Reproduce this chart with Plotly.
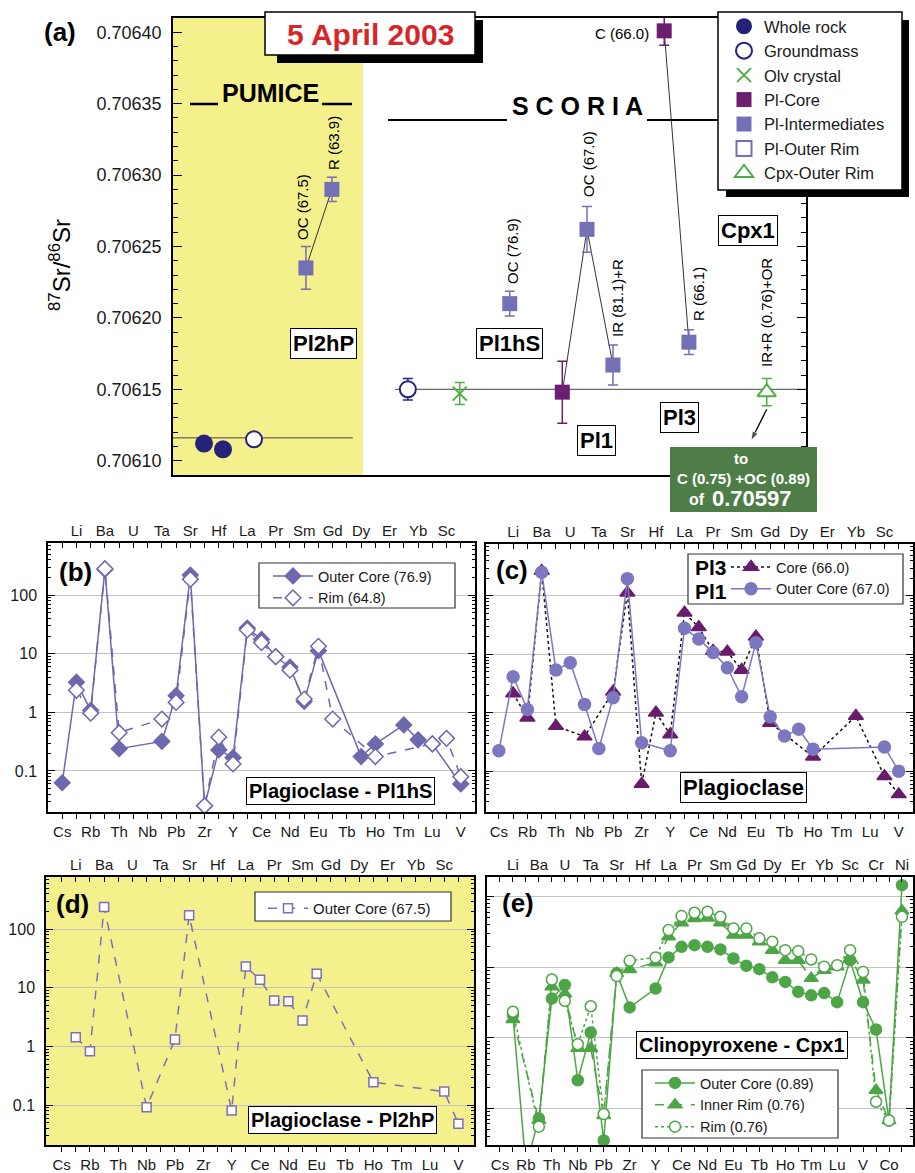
import plotly.graph_objects as go

W, H = 915, 1173
FONT = "Liberation Sans, Arial, Helvetica, sans-serif"


def px(x):
    return x / W


def py(y):
    return 1 - y / H


# ======================= DATA =======================
# Panel (a): 87Sr/86Sr ; samples placed in slots along an unlabelled 0-100 axis
wr_slot = [4.9, 7.9]
wr_sr = [0.706112, 0.706108]
gm_pumice_slot = [12.8]
gm_pumice_sr = [0.706115]
gm_scoria_slot = [37.1]
gm_scoria_sr = [0.706150]
gm_scoria_err = [0.0000075]
olv_slot = [45.3]
olv_sr = [0.706147]
olv_err = [0.0000077]
plcore_slot = [61.5, 77.6]                      # Pl1 core, Pl3 C (66.0)
plcore_sr = [0.706148, 0.706401]
plcore_err = [0.0000217, 0.0000100]
plint_slot = [21.0, 25.1, 53.2, 65.4, 69.5, 81.5]  # Pl2hP OC, Pl2hP R, Pl1hS OC, Pl1 OC, Pl1 IR+R, Pl3 R
plint_sr = [0.706235, 0.706290, 0.706210, 0.706262, 0.706167, 0.706183]
plint_err = [0.0000150, 0.0000085, 0.0000087, 0.0000160, 0.0000140, 0.0000087]
cpx_slot = [93.8]
cpx_sr = [0.706148]
cpx_err = [0.0000095]
pumice_mean = 0.706116
scoria_mean = 0.706150
pumice_span = [0, 28.4]
scoria_span = [35.1, 100]
pumice_shade = [0, 30]
# arrow from the Cpx1 point towards the note box (tail, head) in panel-(a) coordinates
note_arrow_x = [93.8, 91.3]
note_arrow_y = [0.706136, 0.706114]

# Panels (b)-(e): normalised trace-element patterns
ELEM_PL = ["Cs", "Li", "Rb", "Ba", "Th", "U", "Nb", "Ta", "Pb", "Sr", "Zr", "Hf", "Y", "La",
           "Ce", "Pr", "Nd", "Sm", "Eu", "Gd", "Tb", "Dy", "Ho", "Er", "Tm", "Yb", "Lu", "Sc", "V"]
ELEM_CPX = ELEM_PL + ["Cr", "Co", "Ni"]
N = None
b_outer_core = [0.063, 3.27, 1.08, 275, 0.24, N, N, 0.32, 1.93, 220, 0.0255, 0.229, 0.169, 27.5,
                17.6, 8.9, 5.9, 1.54, 11.3, N, N, 0.176, 0.29, N, 0.61, 0.34, 0.29, N, 0.060]
b_rim = [N, 2.38, 0.97, 283, 0.45, N, N, 0.77, 1.48, 186, 0.0255, 0.378, 0.132, 25.5,
         15.5, 8.9, 5.25, 1.69, 13.4, 0.77, N, N, 0.176, N, N, N, 0.29, 0.36, 0.080]
c_pl3_core = [N, 2.14, 0.82, 268, 0.59, N, 0.39, N, 2.29, 114, 0.060, 1.0, 0.425, 51.8,
              29, 11.4, 11.1, 5.4, 20.1, 0.67, N, N, 0.176, N, N, 0.877, N, 0.082, 0.040]
c_pl1_outer_core = [0.223, 4.14, 1.14, 255, 5.39, 7.2, 1.39, 0.245, 1.81, 198, 0.306, N, 0.223, 27.9,
                    18.3, 10.8, 5.9, 1.88, 15.8, 0.85, 0.40, 0.52, 0.238, N, N, N, N, 0.26, 0.10]
d_outer_core = [N, 1.44, 0.83, 239, N, N, 0.092, N, 1.32, 173, N, N, 0.081, 23.2,
                13.7, 6.1, 5.9, 2.78, 17.4, N, N, N, 0.246, N, N, N, N, 0.17, 0.048]
e_outer_core = [N, 21, 0.15, 0.72, 36, 56, 2.5, 11.9, 0.35, 82, 27, N, 50, 138, 195, 206, 195,
                179, 133, 105, 94, 72, 62, 45, 40, 43, 32, 126, 32, 13.1, 0.67, 1460]
e_inner_rim = [N, 18.2, N, 0.68, 53, 42, 7.1, 7.1, 0.79, 82, 93, N, 116, 271, 428, 493, 500,
               428, 286, 286, 230, 175, 126, 126, 70, 91, 102, 133, 66, 1.81, 0.67, 632]
e_rim = [N, 23.4, N, 0.55, 67, 33.5, 8.1, 28, 0.83, 75, 124, N, 138, 337, 532, 593, 612,
         520, 356, 356, 257, 230, 175, 169, 129, 102, 107, 175, 86, 1.24, 0.67, 520]

# ======================= STYLE =======================
NAVY = "#24227a"
PLCORE = "#6b1f6e"
PLINT = "#7470b6"
GREEN = "#4fae45"
YEL = "#f4f08c"
B_COL = "#6e68ae"
C_TRI = "#6a1c6c"
C_CIR = "#7d77c1"
D_COL = "#7b70b8"
E_COL = "#4ea547"
GBOX = "#4f7d47"

fig = go.Figure()


def err(arr, color):
    return dict(type="data", array=arr, visible=True, color=color, thickness=1.5, width=5)


# ---------------- panel (a) traces ----------------
line_kw = dict(mode="lines", showlegend=False, hoverinfo="skip", xaxis="x", yaxis="y")
fig.add_trace(go.Scatter(x=pumice_span, y=[pumice_mean] * 2, line=dict(color="#444", width=1), **line_kw))
fig.add_trace(go.Scatter(x=scoria_span, y=[scoria_mean] * 2, line=dict(color="#444", width=1), **line_kw))
fig.add_trace(go.Scatter(x=plint_slot[0:2], y=plint_sr[0:2], line=dict(color="#333", width=1), **line_kw))
fig.add_trace(go.Scatter(x=[plcore_slot[0], plint_slot[3], plint_slot[4]],
                         y=[plcore_sr[0], plint_sr[3], plint_sr[4]], line=dict(color="#333", width=1), **line_kw))
fig.add_trace(go.Scatter(x=[plcore_slot[1], plint_slot[5]], y=[plcore_sr[1], plint_sr[5]],
                         line=dict(color="#333", width=1), **line_kw))
fig.add_trace(go.Scatter(x=note_arrow_x, y=note_arrow_y, mode="lines+markers", showlegend=False,
                         hoverinfo="skip", xaxis="x", yaxis="y", cliponaxis=False,
                         line=dict(color="black", width=1.3),
                         marker=dict(symbol="arrow", angleref="previous", size=[0, 10], color="black")))

fig.add_trace(go.Scatter(x=wr_slot, y=wr_sr, mode="markers", name="Whole rock",
                         marker=dict(symbol="circle", size=18, color=NAVY)))
fig.add_trace(go.Scatter(x=gm_pumice_slot, y=gm_pumice_sr, mode="markers", name="Groundmass",
                         marker=dict(symbol="circle", size=16, color="white", line=dict(color=NAVY, width=2))))
fig.add_trace(go.Scatter(x=gm_scoria_slot, y=gm_scoria_sr, mode="markers", name="Groundmass", showlegend=False,
                         error_y=err(gm_scoria_err, NAVY),
                         marker=dict(symbol="circle", size=16, color="white", line=dict(color=NAVY, width=2))))
fig.add_trace(go.Scatter(x=olv_slot, y=olv_sr, mode="markers", name="Olv crystal",
                         error_y=err(olv_err, GREEN),
                         marker=dict(symbol="x-thin-open", size=14, color=GREEN, line=dict(color=GREEN, width=2))))
fig.add_trace(go.Scatter(x=plcore_slot, y=plcore_sr, mode="markers", name="Pl-Core",
                         error_y=err(plcore_err, PLCORE),
                         marker=dict(symbol="square", size=15, color=PLCORE)))
fig.add_trace(go.Scatter(x=plint_slot, y=plint_sr, mode="markers", name="Pl-Intermediates",
                         error_y=err(plint_err, PLINT),
                         marker=dict(symbol="square", size=15, color=PLINT)))
fig.add_trace(go.Scatter(x=[None], y=[None], mode="markers", name="Pl-Outer Rim",
                         marker=dict(symbol="square-open", size=15, color=PLINT, line=dict(width=2))))
fig.add_trace(go.Scatter(x=cpx_slot, y=cpx_sr, mode="markers", name="Cpx-Outer Rim",
                         error_y=err(cpx_err, GREEN),
                         marker=dict(symbol="triangle-up", size=16, color="white", line=dict(color=GREEN, width=2))))


# ---------------- lower panels ----------------
def series(y, name, legend, xa, ya, symbol, mcolor, fill, size, lcolor, dash, lw=1.5):
    return go.Scatter(x=list(range(len(y))), y=y, mode="lines+markers", connectgaps=True, name=name,
                      legend=legend, xaxis=xa, yaxis=ya, cliponaxis=True,
                      marker=dict(symbol=symbol, size=size, color=fill, line=dict(color=mcolor, width=1.5)),
                      line=dict(color=lcolor, width=lw, dash=dash))


fig.add_trace(series(b_outer_core, "Outer Core (76.9)", "legend2", "x2", "y2", "diamond", B_COL, B_COL, 12, B_COL, "solid"))
fig.add_trace(series(b_rim, "Rim (64.8)", "legend2", "x2", "y2", "diamond", B_COL, "white", 12, B_COL, "dash"))
fig.add_trace(series(c_pl3_core, "Core (66.0)", "legend3", "x4", "y4", "triangle-up", C_TRI, C_TRI, 13, "#111", "dot"))
fig.add_trace(series(c_pl1_outer_core, "Outer Core (67.0)", "legend3", "x4", "y4", "circle", C_CIR, C_CIR, 12, C_CIR, "solid"))
fig.add_trace(series(d_outer_core, "Outer Core (67.5)", "legend4", "x6", "y6", "square", D_COL, "white", 9, D_COL, "dash"))
fig.add_trace(series(e_outer_core, "Outer Core (0.89)", "legend5", "x8", "y8", "circle", E_COL, E_COL, 11, E_COL, "solid"))
fig.add_trace(series(e_inner_rim, "Inner Rim (0.76)", "legend5", "x8", "y8", "triangle-up", E_COL, E_COL, 12, E_COL, "dash"))
fig.add_trace(series(e_rim, "Rim (0.76)", "legend5", "x8", "y8", "circle", E_COL, "white", 11, E_COL, "dot"))

# invisible anchors for the top (secondary) element axes
for xa, ya in (("x3", "y2"), ("x5", "y4"), ("x7", "y6"), ("x9", "y8")):
    fig.add_trace(go.Scatter(x=[0], y=[1], xaxis=xa, yaxis=ya, mode="markers", marker=dict(opacity=0),
                             showlegend=False, hoverinfo="skip"))

# ======================= AXES =======================
TICKFONT = dict(family=FONT, size=15, color="#1a1a1a")
MINOR_LOG = [k * 10 ** e for e in range(-2, 4) for k in range(2, 10)]


def xbottom(x0, x1, rng, labels, anchor):
    idx = list(range(len(labels)))
    return dict(domain=[px(x0), px(x1)], range=rng, anchor=anchor,
                tickvals=idx[0::2], ticktext=labels[0::2],
                ticks="outside", ticklen=5, tickcolor="black", tickfont=TICKFONT,
                minor=dict(tickvals=idx[1::2], ticks="outside", ticklen=5, tickcolor="black", showgrid=False),
                showline=True, linecolor="black", linewidth=1.5, mirror=True,
                showgrid=False, zeroline=False)


def xtop(overlay, rng, labels, anchor):
    idx = list(range(len(labels)))
    return dict(overlaying=overlay, anchor=anchor, side="top", range=rng,
                tickvals=idx[1::2], ticktext=labels[1::2],
                ticks="inside", ticklen=5, tickcolor="black", tickfont=TICKFONT,
                minor=dict(tickvals=idx[0::2], ticks="inside", ticklen=5, tickcolor="black", showgrid=False),
                ticklabelstandoff=3,
                showline=False, showgrid=False, zeroline=False)


def ylog(y0, y1, rng, vals, labels, anchor, show):
    return dict(domain=[py(y1), py(y0)], type="log", range=rng, anchor=anchor,
                tickvals=vals, ticktext=labels, showticklabels=show,
                tickfont=dict(family=FONT, size=16, color="#1a1a1a"), ticklabelstandoff=6,
                ticks="inside", ticklen=7, tickcolor="black",
                minor=dict(tickvals=MINOR_LOG, ticks="inside", ticklen=3, tickcolor="black", showgrid=False),
                showline=True, linecolor="black", linewidth=1.5, mirror="ticks",
                showgrid=True, gridcolor="#c2c2c2", gridwidth=1, zeroline=False)


PL_VALS = [0.1, 1, 10, 100]
PL_TEXT = ["0.1", "1", "10", "100"]
E_VALS = [1, 10, 100, 1000]

a_ticks = [0.70610 + 0.00005 * i for i in range(7)]

fig.update_layout(
    xaxis=dict(domain=[px(173), px(806)], range=[0, 100], anchor="y", showticklabels=False, ticks="",
               showline=True, linecolor="black", linewidth=1.5, mirror=True, showgrid=False, zeroline=False),
    yaxis=dict(domain=[py(475), py(18)], range=[0.70609, 0.70641], anchor="x",
               tickvals=a_ticks, ticktext=[f"{v:.5f}" for v in a_ticks],
               tickfont=dict(family=FONT, size=18, color="#1a1a1a"), ticklabelstandoff=6,
               ticks="inside", ticklen=9, tickcolor="black",
               minor=dict(dtick=0.00001, tick0=0.7061, ticks="inside", ticklen=5, tickcolor="black", showgrid=False),
               showline=True, linecolor="black", linewidth=1.5, mirror="ticks", showgrid=False, zeroline=False),
    xaxis2=xbottom(48, 475, [-1.0, 29.0], ELEM_PL, "y2"),
    xaxis3=xtop("x2", [-1.0, 29.0], ELEM_PL, "y2"),
    yaxis2=ylog(543, 812, [-1.70, 2.89], PL_VALS, PL_TEXT, "x2", True),
    xaxis4=xbottom(486, 913, [-0.9, 29.0], ELEM_PL, "y4"),
    xaxis5=xtop("x4", [-0.9, 29.0], ELEM_PL, "y4"),
    yaxis4=ylog(544, 812, [-1.70, 2.89], PL_VALS, PL_TEXT, "x4", False),
    xaxis6=xbottom(46, 474, [-1.1, 29.1], ELEM_PL, "y6"),
    xaxis7=xtop("x6", [-1.1, 29.1], ELEM_PL, "y6"),
    yaxis6=ylog(877, 1145, [-1.68, 2.89], PL_VALS, PL_TEXT, "x6", True),
    xaxis8=xbottom(487, 913, [-1.0, 31.85], ELEM_CPX, "y8"),
    xaxis9=xtop("x8", [-1.0, 31.85], ELEM_CPX, "y8"),
    yaxis8=ylog(877, 1145, [-0.52, 3.28], E_VALS, ["1", "10", "100", "1000"], "x8", False),
)

# ======================= LEGENDS =======================
def leg(x, y, size, iw=40):
    return dict(x=px(x), y=py(y), xanchor="left", yanchor="top", xref="paper", yref="paper",
                bgcolor="rgba(0,0,0,0)", borderwidth=0, font=dict(family=FONT, size=size, color="#1a1a1a"),
                itemwidth=iw, tracegroupgap=0, traceorder="normal", itemclick=False)


fig.update_layout(
    showlegend=True,
    legend=leg(724, 9, 16.5, 30),
    legend2=leg(268, 560, 14.5),
    legend3=leg(726, 551, 14.5),
    legend4=leg(263, 892, 15),
    legend5=leg(650, 1067, 14.5),
)

# ======================= SHAPES =======================
def rect(x0, y0, x1, y1, fill, lc="black", lw=0):
    return dict(type="rect", xref="paper", yref="paper", x0=px(x0), x1=px(x1), y0=py(y1), y1=py(y0),
                fillcolor=fill, line=dict(color=lc, width=lw), layer="above")


def hline(x0, x1, y, lw=2):
    return dict(type="line", xref="paper", yref="paper", x0=px(x0), x1=px(x1), y0=py(y), y1=py(y),
                line=dict(color="black", width=lw), layer="above")


shapes = [
    dict(type="rect", xref="x", yref="y domain", x0=pumice_shade[0], x1=pumice_shade[1], y0=0, y1=1,
         fillcolor=YEL, line=dict(width=0), layer="below"),
    dict(type="rect", xref="x6 domain", yref="y6 domain", x0=0, x1=1, y0=0, y1=1,
         fillcolor=YEL, line=dict(width=0), layer="below"),
    hline(190, 218, 104, 2.5), hline(322, 352, 104, 2.5),
    hline(388, 507, 120, 2), hline(647, 720, 120, 2),
    # title box with shadow
    rect(277, 20, 483, 63, "black"), rect(265, 12, 475, 55, "white", "black", 1.5),
    # legend (a) with shadow
    rect(726, 20, 909, 197, "black"), rect(718, 12, 902, 190, "white", "black", 1.5),
    # green note box
    rect(670, 447, 817, 512, GBOX),
    # lower legends
    rect(259, 563, 455, 608, "white", "#333", 1.2),
    rect(688, 554, 903, 604, "white", "#333", 1.2),
    rect(255, 892, 451, 921, "white", "#333", 1.2),
    rect(642, 1070, 838, 1138, "white", "#333", 1.2),
]
fig.update_layout(shapes=shapes)

# ======================= ANNOTATIONS =======================
def T(x, y, s, size=15, bold=False, color="black", angle=0, xanchor="center", yanchor="middle", **kw):
    d = dict(x=px(x), y=py(y), xref="paper", yref="paper", text=f"<b>{s}</b>" if bold else s,
             showarrow=False, font=dict(family=FONT, size=size, color=color), textangle=angle,
             xanchor=xanchor, yanchor=yanchor)
    d.update(kw)
    return d


BOX = dict(bgcolor="white", bordercolor="black", borderwidth=1, borderpad=2)

anns = [
    T(60, 32, "(a)", 26, True),
    T(370, 34, "5 April 2003", 30, True, "#d7262a"),
    T(270, 93, "PUMICE", 25, True),
    T(577, 106, "S C O R I A", 25, True),
    T(60, 265, "<sup>87</sup>Sr/<sup>86</sup>Sr", 24, angle=-90),
    T(302, 207, "OC (67.5)", 15, angle=-90),
    T(333, 143, "R (63.9)", 15, angle=-90),
    T(513, 251, "OC (76.9)", 15, angle=-90),
    T(588, 164, "OC (67.0)", 15, angle=-90),
    T(617, 298, "IR (81.1)+R", 15, angle=-90),
    T(698, 294, "R (66.1)", 15, angle=-90),
    T(766, 313, "IR+R (0.76)+OR", 15, angle=-90),
    T(651, 33, "C (66.0)", 15, xanchor="right"),
    T(323, 343, "Pl2hP", 22, True, **BOX),
    T(509, 343, "Pl1hS", 22, True, **BOX),
    T(596, 441, "Pl1", 22, True, **BOX),
    T(679, 417, "Pl3", 22, True, **BOX),
    T(748, 231, "Cpx1", 22, True, **BOX),
    T(741, 458, "to", 15, True, "white"),
    T(743, 478, "C (0.75) +OC (0.89)", 15, True, "white"),
    T(697, 500, "of", 16, True, "white"),
    T(752, 499, "0.70597", 22, True, "white"),
    # lower panels
    T(75, 572, "(b)", 26, True),
    T(512, 570, "(c)", 26, True),
    T(72, 904, "(d)", 26, True),
    T(518, 903, "(e)", 26, True),
    T(340, 791, "Plagioclase - Pl1hS", 20, True, **BOX),
    T(743, 787, "Plagioclase", 22, True, **BOX),
    T(342, 1120, "Plagioclase - Pl2hP", 20, True, **BOX),
    T(742, 1045, "Clinopyroxene - Cpx1", 20, True, **BOX),
    T(711, 567, "Pl3", 21, True),
    T(711, 591, "Pl1", 21, True),
]
fig.update_layout(annotations=anns)

fig.update_layout(width=W, height=H, margin=dict(l=0, r=0, t=0, b=0), autosize=False,
                  paper_bgcolor="white", plot_bgcolor="white",
                  font=dict(family=FONT, color="black"), hovermode=False)

fig.write_html("out.html", config={"displayModeBar": False},
               post_script="document.body.style.margin='0';document.body.style.overflow='hidden';")
